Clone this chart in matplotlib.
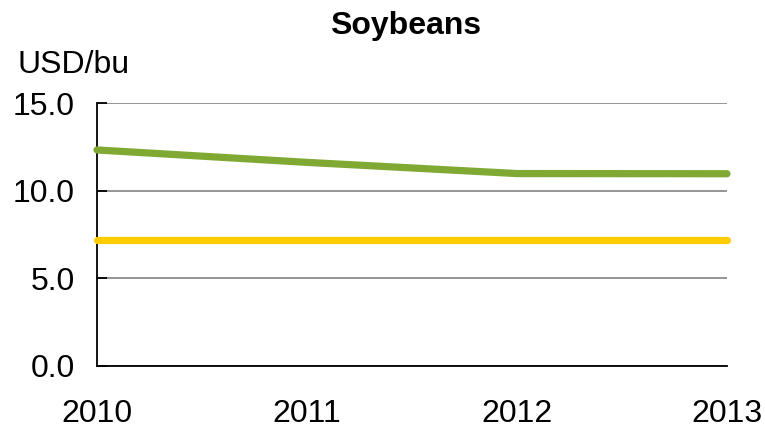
import matplotlib
matplotlib.use("Agg")
import matplotlib.pyplot as plt

plt.rcParams["font.family"] = ["Liberation Sans", "DejaVu Sans"]

years = [2010, 2011, 2012, 2013]
green_series = [12.33, 11.62, 10.98, 10.97]
yellow_series = [7.17, 7.17, 7.17, 7.17]
y_ticks = [0.0, 5.0, 10.0, 15.0]
title = "Soybeans"
unit_label = "USD/bu"

fig = plt.figure(figsize=(7.65, 4.30), dpi=100)
ax = fig.add_axes([0.1268, 0.15, 0.8235, 0.6098])

ax.plot(years, green_series, color="#7FA933", linewidth=5.2,
        solid_capstyle="round", clip_on=False, zorder=3)
ax.plot(years, yellow_series, color="#FFCC00", linewidth=5.2,
        solid_capstyle="round", clip_on=False, zorder=3)

ax.set_xlim(years[0], years[-1])
ax.set_ylim(0, 15)
ax.set_xticks(years)
ax.set_xticklabels([str(y) for y in years])
ax.set_yticks(y_ticks)
ax.set_yticklabels([f"{v:.1f}" for v in y_ticks])

ax.yaxis.grid(True, color="#8c8c8c", linewidth=1.3)
ax.set_axisbelow(True)
for side in ("top", "right"):
    ax.spines[side].set_visible(False)
for side in ("left", "bottom"):
    ax.spines[side].set_color("black")
    ax.spines[side].set_linewidth(1.3)

ax.tick_params(axis="y", direction="in", length=7, width=1.3,
               labelsize=23, pad=16)
ax.tick_params(axis="x", length=0, labelsize=23, pad=24)

fig.text(0.53, 0.94, title, ha="center", va="center",
         fontsize=23, fontweight="bold")
fig.text(0.023, 0.848, unit_label, ha="left", va="center", fontsize=23)

fig.savefig("out.png", dpi=100)
